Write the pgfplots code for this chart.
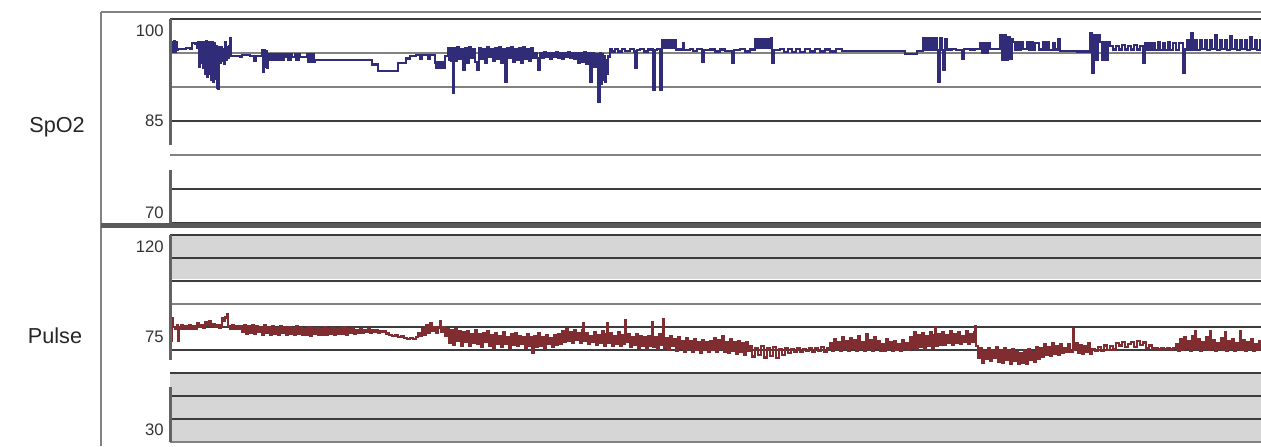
\documentclass[border=0pt]{standalone}
\usepackage{pgfplots}
\pgfplotsset{compat=1.18}
\usepackage{fontspec}
\setmainfont{Liberation Sans}
\definecolor{spo}{RGB}{48,44,120}
\definecolor{pul}{RGB}{128,45,50}
\definecolor{band}{RGB}{214,214,214}
\definecolor{gdark}{RGB}{60,60,60}
\definecolor{gmid}{RGB}{130,130,130}
\definecolor{frame}{RGB}{130,130,130}
\begin{document}
\begin{tikzpicture}
\path[use as bounding box] (0,0) rectangle (756.6pt,267.6pt);
\begin{scope}[x=0.6pt,y=-0.6pt,shift={(0pt,267.6pt)}]
\fill[band] (170,235) rectangle (1261,279);
\fill[band] (170,372) rectangle (1261,442);
\end{scope}

\begin{axis}[at={(102pt,133.8pt)}, anchor=south west, width=654.6pt, height=122.4pt, scale only axis,
  xmin=170, xmax=1261, ymin=70, ymax=100, xtick=\empty,
  ytick={70,75,85,100}, minor ytick={80,90,95}, yticklabels={},
  ymajorgrids, yminorgrids,
  major grid style={gdark, line width=1.5pt}, minor grid style={gmid, line width=1.5pt},
  major tick length=0pt, minor tick length=0pt,
  separate axis lines, axis line style={draw=none}]
\addplot[spo, line width=1.4pt, const plot] coordinates {
(170,96.6)(171,95.2)(172,96.6)(173,95.2)(174,96.8)(175,95.2)(176,96.6)(177,95.4)(178,95.6)(186,95.7)(190,95.6)(192,96.5)(195,96.4)(197,95.8)
(198,96.6)(199,93.0)(200,96.6)(201,93.5)(202,96.6)(203,92.8)(204,96.6)(205,92.0)(206,96.8)(207,91.5)(208,96.6)(209,92.0)(210,96.6)(211,91.0)
(212,96.6)(213,90.8)(214,96.4)(215,91.2)(216,96.0)(217,89.9)(218,89.8)(219,95.9)(220,93.5)(221,95.9)(222,93.8)(223,95.6)(224,93.4)(225,96.6)
(226,94.0)(227,95.8)(228,94.3)(229,96.0)(230,97.2)(231,94.6)
(232,94.6)(240,94.4)(242,94.7)(250,94.6)(254,93.9)(256,94.6)
(262,95.4)(263,92.2)(264,95.4)(265,93.0)(266,95.2)(267,92.8)(268,94.9)(269,94.0)(270,94.9)(271,94.0)(272,94.9)(273,94.0)(274,94.9)(275,94.0)
(276,94.9)(277,94.0)(278,94.9)(279,94.0)(280,94.9)(281,94.0)(282,94.9)(283,94.0)(284,94.9)(285,94.4)(287,94.8)(288,94.0)(289,94.8)(290,94.0)
(291,94.8)(292,94.4)(295,94.8)(296,94.0)(297,94.8)(298,94.0)(299,94.8)(300,94.4)(307,94.8)(308,93.7)(309,94.8)(310,93.7)(311,94.8)(312,93.7)
(313,94.8)(314,93.7)
(315,94.0)(372,93.3)(378,92.4)(398,93.5)(406,94.2)(410,94.6)(416,94.7)(420,94.1)(422,94.7)(428,94.2)(430,94.7)(435,93.6)(436,92.8)(437,93.6)
(438,92.8)(439,93.6)(440,92.8)(441,93.6)(442,92.8)(443,93.6)(444,92.8)(445,94.6)
(448,95.7)(449,94.0)(450,95.7)(451,93.8)(452,95.7)(453,89.1)(454,95.7)(455,93.8)(457,95.8)(459,94.2)(461,95.6)(463,92.5)(465,95.7)(467,93.6)
(469,95.9)(471,94.3)(473,95.6)(475,93.7)(477,92.5)(479,95.7)(481,94.1)(483,95.6)(485,93.5)(487,95.8)(489,94.4)(491,95.6)(493,93.9)(495,95.7)
(497,94.2)(499,95.9)(501,93.6)(503,95.6)(505,90.7)(507,95.7)(509,94.3)(511,95.8)(513,93.7)(515,95.6)(517,94.0)(519,95.7)(521,93.5)(523,95.8)
(525,94.2)(527,95.6)(529,93.8)(531,95.7)(533,94.3)(535,95.0)(537,94.3)(538,92.5)(540,95.0)(542,94.3)(544,95.1)(546,94.4)(548,95.0)(550,94.2)
(552,95.0)(554,94.4)(556,95.1)(558,94.3)(560,95.0)(562,94.2)(564,95.0)(566,94.4)(568,95.1)(570,94.3)(572,95.0)(574,94.2)(576,95.0)(578,93.5)
(580,95.0)(582,93.7)(584,95.1)(586,93.4)(588,95.0)(590,90.7)(592,95.0)(594,93.0)(596,94.8)(598,87.8)(600,95.0)(601,90.5)(602,94.8)(603,91.0)
(604,94.6)(605,90.8)(606,94.0)(607,92.0)(608,94.5)
(610,95.6)(612,95.2)(615,95.6)(618,95.2)(622,95.6)(625,95.3)(630,95.6)(634,95.2)(635,92.8)(637,95.4)(640,95.6)(644,95.2)(648,95.5)(653,89.6)
(655,95.4)(657,95.6)(660,89.6)(662,96.9)(664,95.7)(666,96.9)(668,95.7)(670,96.9)(672,95.7)(674,96.9)(676,95.5)(683,96.5)(684,95.4)(690,95.6)
(693,95.3)(697,95.6)(702,93.7)(704,95.4)
(710,95.5)(715,95.2)(720,95.5)(725,95.3)(732,93.5)(734,95.4)(740,95.6)(745,95.2)(750,95.5)(755,97.1)(757,95.7)(759,97.1)(761,95.7)(763,97.1)
(765,95.7)(767,97.1)(769,95.7)(771,97.2)(772,93.5)(774,95.4)(780,95.6)(784,95.1)(788,95.6)(792,95.1)(796,95.6)(800,95.1)(805,95.6)(810,95.2)
(815,95.6)(820,95.2)(825,95.5)(830,95.2)(836,95.6)(842,95.3)(905,94.9)(917,95.3)(923,97.2)(925,95.4)(927,97.2)(929,95.4)(931,97.2)(933,95.4)
(935,97.2)(937,95.4)(938,90.7)(940,97.2)(942,95.4)(943,92.5)(945,97.0)(947,95.5)(952,95.6)(956,95.4)(962,94.1)(964,95.6)(970,95.5)(975,95.6)
(980,96.5)(982,95.0)(984,96.5)(986,95.0)(988,96.5)(990,95.6)(1000,97.6)(1002,94.0)(1004,97.6)(1006,94.0)(1008,97.4)(1010,94.2)(1012,97.0)
(1013,96.6)(1015,95.4)(1017,96.6)(1019,95.4)(1021,96.6)(1023,95.6)(1027,96.6)(1029,95.4)(1031,96.6)(1033,95.4)(1035,96.5)(1039,95.5)(1043,96.6)
(1045,95.4)(1047,96.6)(1049,95.4)(1053,96.4)(1055,95.5)(1058,97.0)(1060,95.3)(1077,95.2)(1090,97.9)(1092,92.1)(1094,97.6)(1096,94.0)(1098,97.6)
(1100,96.6)(1102,94.0)(1104,96.6)(1106,94.0)(1108,96.6)(1110,96.0)(1113,95.5)(1116,96.0)(1119,95.5)(1122,96.2)(1125,95.5)(1128,96.0)(1131,95.5)
(1134,96.2)(1137,95.5)(1140,96.0)(1143,93.5)(1145,96.5)(1147,95.4)(1149,96.5)(1151,95.4)(1153,96.5)(1155,95.4)(1158,96.6)(1160,95.4)(1163,96.5)
(1165,95.4)(1168,96.6)(1170,95.4)(1173,96.5)(1176,95.4)(1179,96.5)(1183,92.1)(1185,95.5)(1187,96.9)(1189,95.4)(1191,97.9)(1193,95.4)(1195,96.9)
(1197,95.4)(1200,96.9)(1202,95.6)(1205,96.9)(1207,95.4)(1210,96.9)(1212,95.6)(1215,97.6)(1217,95.4)(1220,96.9)(1222,95.6)(1225,96.9)(1227,95.4)
(1230,97.5)(1232,95.6)(1235,96.9)(1237,95.4)(1240,96.9)(1242,95.6)(1245,96.9)(1247,95.4)(1250,97.4)(1252,95.6)(1255,96.9)(1257,95.4)(1260,96.9)
(1261,95.6)};
\end{axis}

\begin{axis}[at={(102pt,2.4pt)}, anchor=south west, width=654.6pt, height=124.2pt, scale only axis,
  xmin=170, xmax=1261, ymin=30, ymax=120, xtick=\empty,
  ytick={40,50,60,70,80,100,110,120}, minor ytick={30,90}, yticklabels={},
  ymajorgrids, yminorgrids,
  major grid style={gdark, line width=1.5pt}, minor grid style={gmid, line width=1.5pt},
  major tick length=0pt, minor tick length=0pt,
  separate axis lines, axis line style={draw=none}]
\addplot[pul, line width=1.4pt, const plot] coordinates {
(170,86.7)(171,74.0)(172,84.0)(173,80.0)(175,79.0)(177,80.6)(178,73.8)(179,79.4)(181,80.6)(183,79.0)(185,80.4)(187,79.2)(189,80.6)(191,79.0)
(193,80.4)(195,79.4)(197,81.5)(199,80.0)(201,81.0)(203,79.6)(205,82.0)(207,80.8)(209,82.4)(211,80.6)(213,81.2)(215,80.0)(217,81.0)(219,79.8)
(221,80.7)(222,83.8)(224,82.6)(225,84.2)(227,85.4)(228,80.3)(230,79.4)(232,80.6)(234,79.2)(236,80.4)(238,79.0)(240,80.2)
(242,77.8)(244,80.6)(246,77.2)(248,80.2)(250,77.6)(252,80.8)(254,77.0)(256,80.4)(258,77.8)(260,80.0)(262,76.8)(264,80.6)(266,77.4)(268,79.8)
(270,76.6)(272,80.2)(274,77.2)(276,79.6)(278,76.8)(280,80.4)(282,77.6)(284,79.8)(286,76.4)(288,80.0)(290,77.0)(292,79.4)(294,76.6)(296,80.2)
(298,77.2)(300,79.6)(302,76.4)(304,79.2)(306,76.8)(308,79.8)(310,76.2)(312,79.4)(314,77.0)(316,79.6)(318,76.4)(320,79.0)(322,76.8)(324,79.8)
(326,76.6)(328,79.2)(330,77.2)(332,79.6)(334,76.4)(336,79.0)(338,76.9)(340,79.4)(342,77.0)(344,79.8)(346,76.6)(348,79.0)(350,77.4)(352,79.4)
(354,77.0)(356,78.8)(358,77.4)(360,79.2)(362,77.6)(364,78.8)(366,77.8)(368,79.0)(370,77.6)(372,78.6)(374,77.8)(376,78.8)(378,77.6)(380,78.4)
(382,77.8)(384,78.2)
(386,77.2)(389,76.6)(392,76.0)(395,76.3)(398,75.6)(401,75.9)(404,75.2)(407,74.9)(410,75.3)(413,74.8)(416,75.6)(418,77.4)(420,76.0)(422,79.0)
(424,76.4)(426,80.8)(428,77.5)(430,81.5)(432,78.2)(434,80.0)(436,77.6)(438,79.8)(440,82.4)(441,78.0)(443,80.0)(445,76.2)
(447,79.0)(449,73.0)(451,78.5)(453,72.4)(455,79.2)(457,74.0)(459,78.0)(461,72.0)(463,77.6)(465,73.6)(467,78.4)(469,71.8)(471,77.0)(473,73.2)
(475,78.6)(477,72.5)(479,76.8)(481,71.2)(483,77.4)(485,73.5)(487,78.1)(489,72.0)(491,76.5)(493,70.8)(495,77.2)(497,72.8)(499,76.0)(501,71.5)
(503,77.8)(505,72.6)(507,75.8)(509,71.0)(511,76.9)(513,72.2)(515,77.5)(517,71.6)(519,76.2)(521,72.8)(523,75.6)(525,70.9)(527,76.8)(529,71.8)
(531,75.4)(532,68.6)(534,76.0)(536,71.5)(538,77.2)(540,72.0)(542,75.8)(544,71.0)(546,76.6)(548,72.6)(550,75.2)(552,71.4)(554,76.4)(556,72.2)
(558,77.0)(560,72.8)
(562,78.4)(564,73.6)(566,79.0)(568,74.2)(570,77.6)(572,73.0)(574,78.8)(576,74.4)(578,77.2)(580,73.2)(582,78.6)(583,81.8)(584,74.0)(586,77.4)
(588,72.8)(590,76.2)(592,73.6)(594,77.8)(596,72.4)(598,76.6)(600,73.0)(602,78.0)(604,72.0)(606,76.8)(607,81.5)(608,73.2)(610,77.2)(612,71.8)
(614,76.2)(616,72.6)(618,77.6)(620,71.6)(622,76.4)(624,72.8)(625,83.0)(626,73.4)(628,76.8)(630,71.2)(632,75.8)(634,72.4)(636,77.0)(638,71.0)
(640,76.0)
(642,71.8)(644,75.4)(646,70.6)(648,76.2)(650,72.0)(652,82.0)(653,71.4)(655,75.6)(657,70.4)(659,76.8)(661,72.2)(663,83.2)(664,71.0)(666,75.2)
(668,70.2)(670,76.0)(672,71.6)(674,74.8)(676,69.6)(678,75.4)(680,70.8)(682,74.0)(684,69.2)(686,75.0)(688,70.4)(690,73.8)(692,69.0)(694,74.6)
(696,70.2)(698,73.6)(700,68.8)(702,74.2)(704,70.0)(706,73.4)(708,69.4)(710,74.0)
(712,70.2)(714,75.2)(716,69.0)(718,74.4)(720,70.6)(722,76.0)(724,69.4)(726,73.6)(728,68.6)(730,74.8)(732,69.8)(734,73.2)(736,68.2)(738,74.0)
(740,69.2)(742,72.8)(744,68.0)(746,73.6)(748,69.6)(750,71.5)(752,67.2)(755,71.0)(758,67.8)(761,71.8)(764,66.8)(767,70.6)(770,67.4)(773,71.2)
(776,66.5)(779,70.2)(782,67.8)(785,70.8)(788,68.6)(791,70.4)
(794,69.4)(797,70.6)(800,69.2)(803,70.4)(806,69.6)(809,71.0)(812,69.2)(815,70.8)(818,69.6)(821,71.2)(824,69.4)(827,70.6)(830,72.8)(832,69.8)
(834,74.6)(836,70.4)(838,73.2)(840,69.6)(842,75.8)(844,70.6)(846,73.8)(848,69.8)(850,75.0)(852,70.8)(854,74.2)(856,69.6)(858,76.0)(860,70.4)
(862,73.6)(864,69.8)(866,77.0)(868,70.6)(870,74.4)(872,69.6)(874,75.4)(876,70.8)(878,73.8)(880,69.6)
(882,72.4)(884,69.8)(886,74.6)(888,70.4)(890,73.2)(892,69.6)(894,74.0)(896,70.2)(898,72.6)(900,69.8)(902,74.4)(904,70.6)(906,73.0)(908,70.0)
(910,75.6)(912,71.0)(914,77.8)(916,70.4)(918,76.4)(920,71.2)(922,77.2)(924,70.6)(926,76.0)(928,71.6)(930,77.6)(932,70.8)(934,76.4)(935,80.0)
(936,71.6)(938,77.0)(940,72.4)(942,77.8)(944,72.2)(946,76.6)(948,73.0)(950,78.0)(952,72.4)(954,76.8)(956,73.2)(958,77.6)(960,72.6)(962,76.2)
(964,73.4)(966,78.2)(968,72.8)(970,77.0)(972,73.6)(974,77.8)(975,80.2)
(976,71.6)(978,66.4)(980,70.8)(982,64.6)(984,69.6)(986,66.0)(988,71.0)(990,65.4)(992,70.0)(994,66.6)(996,71.4)(998,65.0)(1000,69.8)(1002,64.4)
(1004,70.6)(1006,65.8)(1008,69.4)(1010,64.0)(1012,70.2)(1014,65.2)(1016,69.0)(1018,63.8)(1020,68.6)(1022,64.6)(1024,69.8)(1026,64.2)(1028,70.4)
(1030,65.6)(1032,69.2)(1034,65.0)(1036,71.2)(1038,66.2)(1040,70.6)(1042,67.2)(1044,72.6)(1046,68.0)(1048,71.4)(1050,67.6)(1052,73.0)(1054,68.4)
(1056,71.6)(1058,68.0)(1060,72.4)(1062,68.8)(1064,71.0)
(1066,69.4)(1068,72.6)(1070,69.0)(1073,79.0)(1074,70.2)(1076,73.0)(1078,68.6)(1080,72.0)(1082,68.2)(1084,71.8)(1086,69.0)(1088,72.8)(1090,68.4)
(1092,70.4)(1095,69.8)(1098,71.2)(1101,69.6)(1104,72.0)(1107,70.0)(1110,71.6)(1113,70.2)(1116,73.0)(1119,72.0)(1122,73.4)(1125,71.2)(1128,72.6)
(1131,73.6)(1134,71.4)(1137,73.8)(1140,72.2)(1143,73.2)(1146,71.0)(1149,72.0)(1152,70.6)(1155,71.0)(1158,70.2)(1161,70.8)(1164,70.4)(1167,71.0)
(1170,70.2)(1173,70.8)(1176,72.4)(1178,69.8)(1180,74.6)(1182,70.2)(1184,75.8)(1186,70.8)(1188,74.0)(1190,69.6)(1192,76.0)(1194,70.6)(1195,78.0)
(1196,70.4)(1198,74.8)(1200,69.8)(1202,73.6)(1204,70.6)(1206,75.4)(1208,70.0)(1210,78.0)(1211,70.8)(1213,74.2)(1215,69.6)(1217,73.0)(1219,70.4)
(1221,75.0)(1223,70.2)(1225,77.6)(1226,69.8)(1228,73.8)(1230,70.6)(1232,74.6)(1234,69.8)(1236,72.8)(1238,70.4)(1240,78.0)(1241,70.0)(1243,74.2)
(1245,69.6)(1247,73.4)(1249,70.4)(1251,74.8)(1253,69.8)(1255,72.6)(1257,70.2)(1259,73.8)(1261,70.4)};
\end{axis}

\begin{scope}[x=0.6pt,y=-0.6pt,shift={(0pt,267.6pt)}]
% outer frame
\draw[frame, line width=1.3pt] (101,12) -- (1261,12);
\draw[frame, line width=1.3pt] (101,12) -- (101,446);
\draw[gdark!85, line width=2.8pt] (101,225.8) -- (1261,225.8);
% broken left axis lines
\draw[gdark!80, line width=2pt] (170.5,19) -- (170.5,145);
\draw[gdark!80, line width=2pt] (170.5,170) -- (170.5,223);
\draw[gdark!80, line width=2pt] (170.5,235) -- (170.5,360);
\draw[gdark!80, line width=2pt] (170.5,387) -- (170.5,442);
% tick labels
\begin{scope}[every node/.style={anchor=east, inner sep=0pt, font=\fontsize{10}{12}\selectfont, text=black!80}]
\node at (164,31) {100};
\node at (164,121) {85};
\node at (164,213) {70};
\node at (164,246.5) {120};
\node at (164,337) {75};
\node at (164,430) {30};
\end{scope}
\node[font=\fontsize{13}{15}\selectfont, text=black!85] at (57,127) {SpO2};
\node[font=\fontsize{13}{15}\selectfont, text=black!85] at (55,336) {Pulse};
\end{scope}
\end{tikzpicture}
\end{document}
